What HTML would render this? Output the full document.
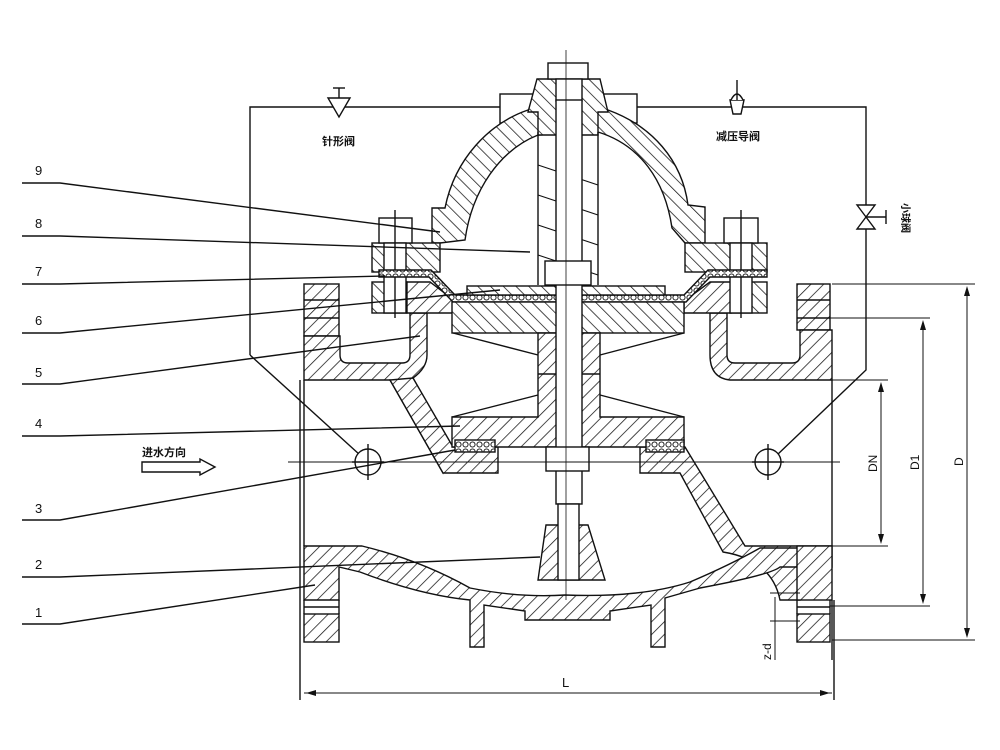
<!DOCTYPE html>
<html><head><meta charset="utf-8"><style>
html,body{margin:0;padding:0;background:#fff;}
svg{display:block;}
text{font-family:"Liberation Sans","Noto Sans CJK SC",sans-serif;fill:#111;}
</style></head><body>
<svg width="1000" height="750" viewBox="0 0 1000 750" xmlns="http://www.w3.org/2000/svg">
<defs>
<pattern id="hb" width="9" height="9" patternUnits="userSpaceOnUse" patternTransform="rotate(45)">
<rect width="9" height="9" fill="#fff"/><line x1="0" y1="0" x2="0" y2="9" stroke="#111" stroke-width="1.5"/></pattern>
<pattern id="hf" width="9" height="9" patternUnits="userSpaceOnUse" patternTransform="rotate(-45)">
<rect width="9" height="9" fill="#fff"/><line x1="0" y1="0" x2="0" y2="9" stroke="#111" stroke-width="1.5"/></pattern>
<pattern id="dots" width="7" height="7" patternUnits="userSpaceOnUse">
<rect width="7" height="7" fill="#fff"/><circle cx="3.5" cy="3.5" r="2.6" fill="none" stroke="#111" stroke-width="0.9"/></pattern>
</defs>
<g fill="none" stroke="#111" stroke-width="1.4">
<polyline points="250,355 250,107 502,107"/>
<line x1="250" y1="355" x2="360" y2="455"/>
<polyline points="637,107 866,107 866,370 777,455"/>
<rect x="500" y="94" width="137" height="29" fill="#fff"/>
<polygon points="328,98 350,98 339,117" fill="#fff"/>
<line x1="339" y1="88" x2="339" y2="98"/><line x1="333" y1="88" x2="345" y2="88"/>
<path d="M730,100 L744,100 L741,114 L733,114 Z" fill="#fff"/>
<path d="M731,100 Q737,88 743,100" fill="#fff"/><line x1="737" y1="80" x2="737" y2="100"/>
<polygon points="857,205 875,205 857,229 875,229" fill="#fff"/>
<line x1="866" y1="217" x2="886" y2="217"/><line x1="886" y1="210" x2="886" y2="224"/>

<rect x="304" y="284" width="35" height="52" fill="url(#hb)"/>
<line x1="304" y1="300" x2="339" y2="300"/><line x1="304" y1="318" x2="339" y2="318"/>
<rect x="797" y="284" width="33" height="46" fill="url(#hb)"/>
<line x1="797" y1="300" x2="830" y2="300"/><line x1="797" y1="318" x2="830" y2="318"/>
<path d="M304,336 L340,336 L340,355 Q340,363 348,363 L402,363 Q410,363 410,355 L410,313 L427,313 L427,355 Q427,368 413,378 L453,450 L443,473 L443,473 L390,380 L304,380 Z" fill="url(#hb)"/>
<path d="M832,330 L800,330 L800,355 Q800,363 792,363 L735,363 Q727,363 727,355 L727,313 L710,313 L710,355 Q710,378 730,380 L832,380 Z" fill="url(#hb)"/>
<path d="M413,378 L453,447 L498,447 L498,473 L443,473 L390,380 Z" fill="url(#hb)"/>
<path d="M640,447 L685,447 L745,546 L832,546 L832,567 L800,567 L800,600 L780,600 Q772,560 723,552 L680,473 L640,473 Z" fill="url(#hb)"/>
<path d="M304,546 L362,546 Q420,560 470,588 Q520,598 565,595 Q640,598 690,582 Q730,565 760,548 L800,548 L800,567 L780,567 Q770,575 700,588 L665,598 L665,647 L651,647 L651,605 L610,611 L610,620 L525,620 L525,611 L484,605 L484,647 L470,647 L470,600 Q420,595 360,572 L339,567 L339,600 L304,600 Z" fill="url(#hb)"/>
<rect x="304" y="614" width="35" height="28" fill="url(#hb)"/>
<line x1="304" y1="600" x2="304" y2="614"/><line x1="339" y1="600" x2="339" y2="614"/><line x1="304" y1="607" x2="339" y2="607"/>
<rect x="797" y="614" width="33" height="28" fill="url(#hb)"/>
<line x1="797" y1="600" x2="797" y2="614"/><line x1="830" y1="600" x2="830" y2="614"/><line x1="797" y1="607" x2="830" y2="607"/>
<rect x="797" y="546" width="35" height="54" fill="url(#hb)"/>
<line x1="304" y1="380" x2="304" y2="546"/><line x1="832" y1="380" x2="832" y2="546"/>
<line x1="832" y1="600" x2="832" y2="660"/><line x1="300" y1="380" x2="300" y2="700"/><line x1="834" y1="600" x2="834" y2="700"/>
<path d="M546,525 L588,525 L605,580 L546,580 L538,580 Z" fill="url(#hb)"/>

<path d="M445,208 C455,158 490,123 528,110 L608,110 C652,126 682,160 688,205 L705,207 L705,243 L685,243 L672,228 C665,180 640,145 598,132 L538,135 C500,150 472,190 465,240 L440,243 L432,243 L432,208 Z" fill="url(#hf)"/>
<path d="M537,79 L600,79 L608,112 L598,112 L598,135 L538,135 L538,112 L528,112 Z" fill="url(#hf)"/>
<rect x="548" y="63" width="40" height="16" fill="#fff"/>
<rect x="556" y="79" width="26" height="22" fill="#fff"/>
<rect x="372" y="243" width="68" height="29" fill="url(#hf)"/>
<rect x="372" y="282" width="35" height="31" fill="url(#hf)"/>
<path d="M407,282 L430,282 L455,301 L455,313 L407,313 Z" fill="url(#hb)"/>
<rect x="685" y="243" width="82" height="29" fill="url(#hf)"/>
<rect x="731" y="282" width="36" height="31" fill="url(#hf)"/>
<path d="M731,282 L710,282 L684,301 L684,313 L731,313 Z" fill="url(#hb)"/>
<rect x="379" y="218" width="33" height="25" fill="#fff"/><rect x="384" y="243" width="22" height="70" fill="#fff"/>
<line x1="395" y1="210" x2="395" y2="318"/>
<rect x="724" y="218" width="34" height="25" fill="#fff"/><rect x="730" y="243" width="22" height="70" fill="#fff"/>
<line x1="741" y1="210" x2="741" y2="318"/>
<path d="M379,270 L431,270 L455,295 L684,295 L708,270 L767,270 L767,277 L710,277 L686,302 L453,302 L429,277 L379,277 Z" fill="url(#dots)"/>
<rect x="467" y="286" width="198" height="9" fill="url(#hf)"/>
<rect x="452" y="302" width="232" height="31" fill="url(#hf)"/>
<path d="M538,333 L600,333 L600,417 L684,417 L684,447 L452,447 L452,417 L538,417 Z" fill="url(#hb)"/>
<line x1="453" y1="333" x2="538" y2="355"/><line x1="684" y1="333" x2="600" y2="355"/>
<line x1="452" y1="417" x2="538" y2="395"/><line x1="684" y1="417" x2="600" y2="395"/>
<line x1="538" y1="374" x2="600" y2="374"/>
<rect x="455" y="440" width="40" height="12" fill="url(#dots)"/>
<rect x="646" y="440" width="38" height="12" fill="url(#dots)"/>
<line x1="538" y1="132" x2="538" y2="285"/><line x1="598" y1="132" x2="598" y2="285"/>
<g stroke-width="1.1">
<line x1="538" y1="165" x2="598" y2="185"/><line x1="538" y1="195" x2="598" y2="215"/><line x1="538" y1="225" x2="598" y2="245"/><line x1="538" y1="255" x2="598" y2="275"/>
</g>
<rect x="556" y="100" width="26" height="404" fill="#fff"/>
<rect x="558" y="504" width="21" height="76" fill="#fff"/>
<rect x="545" y="261" width="46" height="24" fill="#fff"/>
<rect x="546" y="447" width="43" height="24" fill="#fff"/>
<line x1="566" y1="50" x2="566" y2="600" stroke-width="0.8"/>
<line x1="288" y1="462" x2="840" y2="462" stroke-width="0.9"/>
<circle cx="368" cy="462" r="13" fill="#fff"/><line x1="368" y1="444" x2="368" y2="480"/><line x1="352" y1="462" x2="384" y2="462"/>
<circle cx="768" cy="462" r="13" fill="#fff"/><line x1="768" y1="444" x2="768" y2="480"/><line x1="752" y1="462" x2="784" y2="462"/>

<polyline points="22,183 60,183 440,232"/>
<polyline points="22,236 60,236 530,252"/>
<polyline points="22,284 60,284 385,276"/>
<polyline points="22,333 60,333 500,290"/>
<polyline points="22,384 60,384 420,336"/>
<polyline points="22,436 60,436 460,426"/>
<polyline points="22,520 60,520 455,450"/>
<polyline points="22,577 60,577 540,557"/>
<polyline points="22,624 60,624 315,585"/>
<path d="M142,462 L200,462 L200,459 L215,467 L200,475 L200,472 L142,472 Z" fill="#fff"/>

<g stroke-width="1">
<line x1="832" y1="284" x2="975" y2="284"/><line x1="832" y1="640" x2="975" y2="640"/>
<line x1="967" y1="288" x2="967" y2="636"/>
<line x1="830" y1="318" x2="930" y2="318"/><line x1="830" y1="606" x2="930" y2="606"/>
<line x1="923" y1="322" x2="923" y2="602"/>
<line x1="832" y1="380" x2="888" y2="380"/><line x1="832" y1="546" x2="888" y2="546"/>
<line x1="881" y1="384" x2="881" y2="542"/>
<line x1="304" y1="693" x2="832" y2="693"/>
<line x1="770" y1="593" x2="800" y2="593"/><line x1="770" y1="621" x2="800" y2="621"/>
<line x1="775" y1="597" x2="775" y2="660"/>
</g>
<g fill="#111" stroke="none">
<polygon points="967,286 964,296 970,296"/><polygon points="967,638 964,628 970,628"/>
<polygon points="923,320 920,330 926,330"/><polygon points="923,604 920,594 926,594"/>
<polygon points="881,382 878,392 884,392"/><polygon points="881,544 878,534 884,534"/>
<polygon points="306,693 316,690 316,696"/><polygon points="830,693 820,690 820,696"/>
</g>
</g>
<g font-size="13">
<text x="35" y="175">9</text><text x="35" y="228">8</text><text x="35" y="276">7</text>
<text x="35" y="325">6</text><text x="35" y="377">5</text><text x="35" y="428">4</text>
<text x="35" y="513">3</text><text x="35" y="569">2</text><text x="35" y="617">1</text>
<text x="562" y="687">L</text>
</g>
<g font-size="11" font-weight="bold">
<text x="322" y="145">针形阀</text>
<text x="716" y="140">减压导阀</text>
<text x="142" y="456">进水方向</text>
</g>
<text font-size="10" font-weight="bold" transform="translate(902,203) rotate(90)">小球阀</text>
<g font-size="12">
<text transform="translate(877,472) rotate(-90)">DN</text>
<text transform="translate(919,470) rotate(-90)">D1</text>
<text transform="translate(963,466) rotate(-90)">D</text>
<text transform="translate(771,660) rotate(-90)">z-d</text>
</g>
</svg>
</body></html>
